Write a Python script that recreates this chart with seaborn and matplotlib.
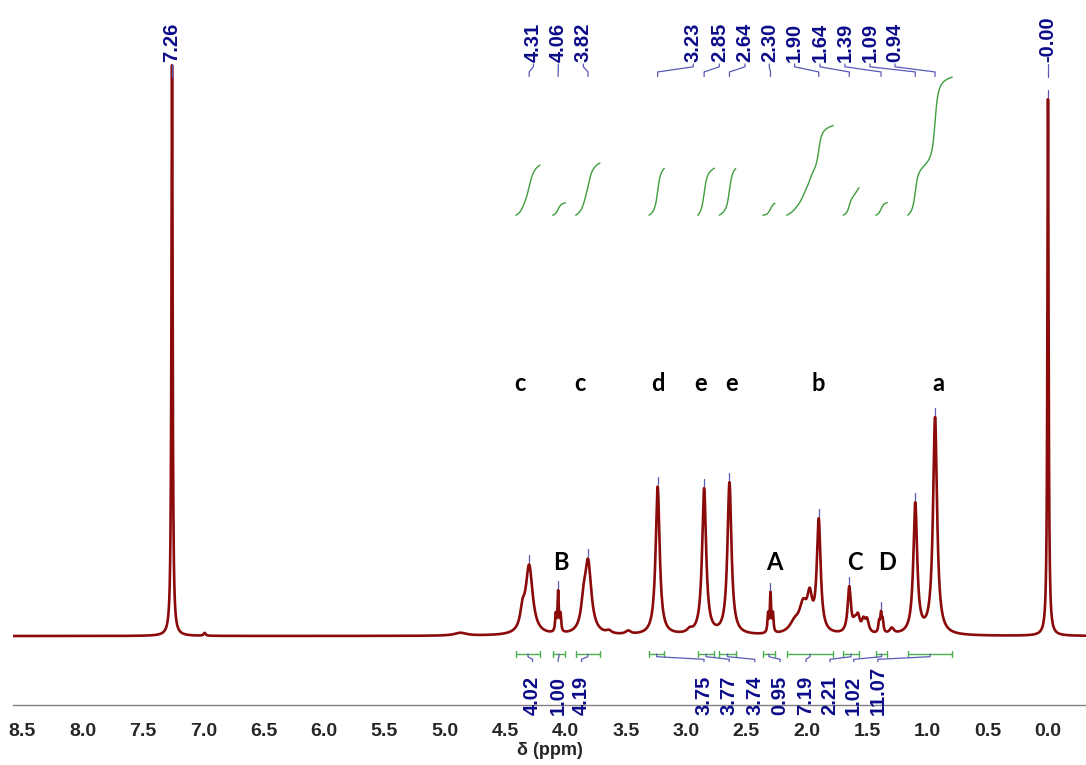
import numpy as np
import pandas as pd
import matplotlib
matplotlib.use("Agg")
import matplotlib.pyplot as plt
from matplotlib.ticker import MultipleLocator, FormatStrFormatter
import seaborn as sns

# --- spectrum lines: shift (ppm), height (CHCl3 = 100), width (ppm)
line_ppm = [7.26, 6.99, 4.87, 4.355, 4.30, 4.08, 4.06, 4.04, 3.85, 3.812, 3.64, 3.48,
            3.235, 2.97, 2.85, 2.64, 2.32, 2.30, 2.28, 2.10, 2.03, 1.975, 1.90,
            1.647, 1.60, 1.575, 1.53, 1.50, 1.40, 1.384, 1.37, 1.295, 1.10, 0.936, 0.00]
line_height = [100, 0.5, 0.5, 3.0, 12.0, 3.0, 7.0, 3.0, 3.5, 12.5, 0.5, 0.6,
               26.0, 0.6, 25.5, 26.6, 3.2, 6.8, 3.2, 1.8, 4.5, 5.5, 19.5,
               8.0, 1.5, 2.5, 2.0, 2.2, 1.8, 3.2, 2.0, 1.0, 22.8, 38.0, 94.0]
line_width = [0.012, 0.02, 0.12, 0.045, 0.07, 0.012, 0.012, 0.012, 0.045, 0.065, 0.05, 0.05,
              0.04, 0.05, 0.04, 0.04, 0.012, 0.012, 0.012, 0.1, 0.075, 0.05, 0.038,
              0.032, 0.04, 0.035, 0.035, 0.035, 0.015, 0.015, 0.015, 0.04, 0.038, 0.04, 0.012]

# picked peaks (top labels)
peak_labels = ["7.26", "4.31", "4.06", "3.82", "3.23", "2.85", "2.64", "2.30",
               "1.90", "1.64", "1.39", "1.09", "0.94", "-0.00"]
peak_pos = [7.26, 4.30, 4.06, 3.812, 3.235, 2.85, 2.64, 2.30, 1.90, 1.647, 1.384, 1.10, 0.936, 0.00]
peak_label_at = [7.26, 4.265, 4.058, 3.851, 2.94, 2.724, 2.511, 2.31, 2.10, 1.89,
                 1.683, 1.476, 1.268, 0.00]

# integrals
int_from = [4.41, 4.105, 3.915, 3.307, 2.903, 2.724, 2.363, 2.166, 1.697, 1.428, 1.163]
int_to = [4.21, 4.00, 3.713, 3.18, 2.765, 2.588, 2.263, 1.78, 1.567, 1.332, 0.793]
int_value = [4.02, 1.00, 4.19, 3.75, 3.77, 3.74, 0.95, 7.19, 2.21, 1.02, 11.07]
int_label_at = [4.272, 4.06, 3.866, 2.851, 2.642, 2.43, 2.22, 2.006, 1.807, 1.61, 1.41]

# assignment letters
letters_low = ["c", "c", "d", "e", "e", "b", "a"]
letters_low_at = [4.38, 3.88, 3.23, 2.88, 2.62, 1.906, 0.912]
letters_up = ["B", "A", "C", "D"]
letters_up_at = [4.04, 2.27, 1.60, 1.33]

RED = "#8b0a0a"
BLUE = "#5a5ab8"
NAVY = "#0c0c8a"
GREEN = "#4caf50"

ppm = np.linspace(8.62, -0.33, 24000)
inten = np.zeros_like(ppm)
for p, h, w in zip(line_ppm, line_height, line_width):
    inten += h / (1 + ((ppm - p) / (w / 2)) ** 2)
df = pd.DataFrame({"ppm": ppm, "intensity": inten})

sns.set_style("white")
plt.rcParams["font.family"] = ["Liberation Sans", "DejaVu Sans"]
plt.rcParams["font.weight"] = "bold"

fig = plt.figure(figsize=(10.86, 7.65), dpi=100)
ax = fig.add_axes([13 / 1086, 60 / 765, 1073 / 1086, 705 / 765])

sns.lineplot(data=df, x="ppm", y="intensity", ax=ax, color=RED, lw=1.9,
             estimator=None, sort=False, errorbar=None)

ax.set_xlim(8.578, -0.315)
ax.set_ylim(-12.08, 111.4)

# peak ticks + top labels with leader lines
lab_y = 100.5
for txt, p, lx in zip(peak_labels, peak_pos, peak_label_at):
    win = (ppm > p - 0.012) & (ppm < p + 0.012)
    top = inten[win].max()
    ax.plot([lx, lx, p, p], [lab_y - 0.3, 99.7, 98.8, 98.0], color=BLUE, lw=0.9)
    if top < 97:
        ax.plot([p, p], [top + 0.35, top + 1.6], color=BLUE, lw=0.9)
    ax.text(lx, lab_y, txt, rotation=90, ha="center", va="bottom",
            color=NAVY, fontsize=14.5)

# integral curves, brackets and values
int_base = 73.7
int_scale = 2.184
yb = -3.15
for a, b, v, lx in zip(int_from, int_to, int_value, int_label_at):
    m = (ppm <= a) & (ppm >= b)
    cum = np.cumsum(inten[m])
    cum = cum / cum[-1]
    ax.plot(ppm[m], int_base + cum * v * int_scale, color="#3d9e3d", lw=1.0)
    ax.plot([a, b], [yb, yb], color=GREEN, lw=1.0)
    ax.plot([a, a], [yb - 0.5, yb + 0.5], color=GREEN, lw=1.0)
    ax.plot([b, b], [yb - 0.5, yb + 0.5], color=GREEN, lw=1.0)
    c = (a + b) / 2
    ax.plot([c, c, lx, lx], [yb, yb - 0.47, yb - 0.93, yb - 1.35], color=BLUE, lw=0.9)
    ax.text(lx, -13.84, f"{v:.2f}", rotation=90, ha="center", va="bottom",
            color=NAVY, fontsize=14.5, zorder=5, clip_on=False)

for t, x in zip(letters_low, letters_low_at):
    ax.text(x, 42.9, t, ha="center", va="baseline", fontsize=17,
            family="Lato", fontweight="bold", color="black")
for t, x in zip(letters_up, letters_up_at):
    ax.text(x, 11.56, t, ha="center", va="baseline", fontsize=17,
            family="Lato", fontweight="bold", color="black")

for s in ["left", "right", "top"]:
    ax.spines[s].set_visible(False)
ax.spines["bottom"].set_color("#808080")
ax.spines["bottom"].set_linewidth(1.0)
ax.set_yticks([])
ax.set_ylabel("")
ax.xaxis.set_major_locator(MultipleLocator(0.5))
ax.xaxis.set_minor_locator(MultipleLocator(0.25))
ax.xaxis.set_major_formatter(FormatStrFormatter("%.1f"))
ax.tick_params(axis="x", which="major", length=4.3, width=1, color="#808080",
               direction="out", pad=9, labelsize=14)
ax.tick_params(axis="x", which="minor", length=2, width=1, color="#808080", direction="out")
ax.set_xlabel("δ (ppm)", fontsize=13, fontweight="bold", labelpad=1)

fig.savefig("out.png", dpi=100)
